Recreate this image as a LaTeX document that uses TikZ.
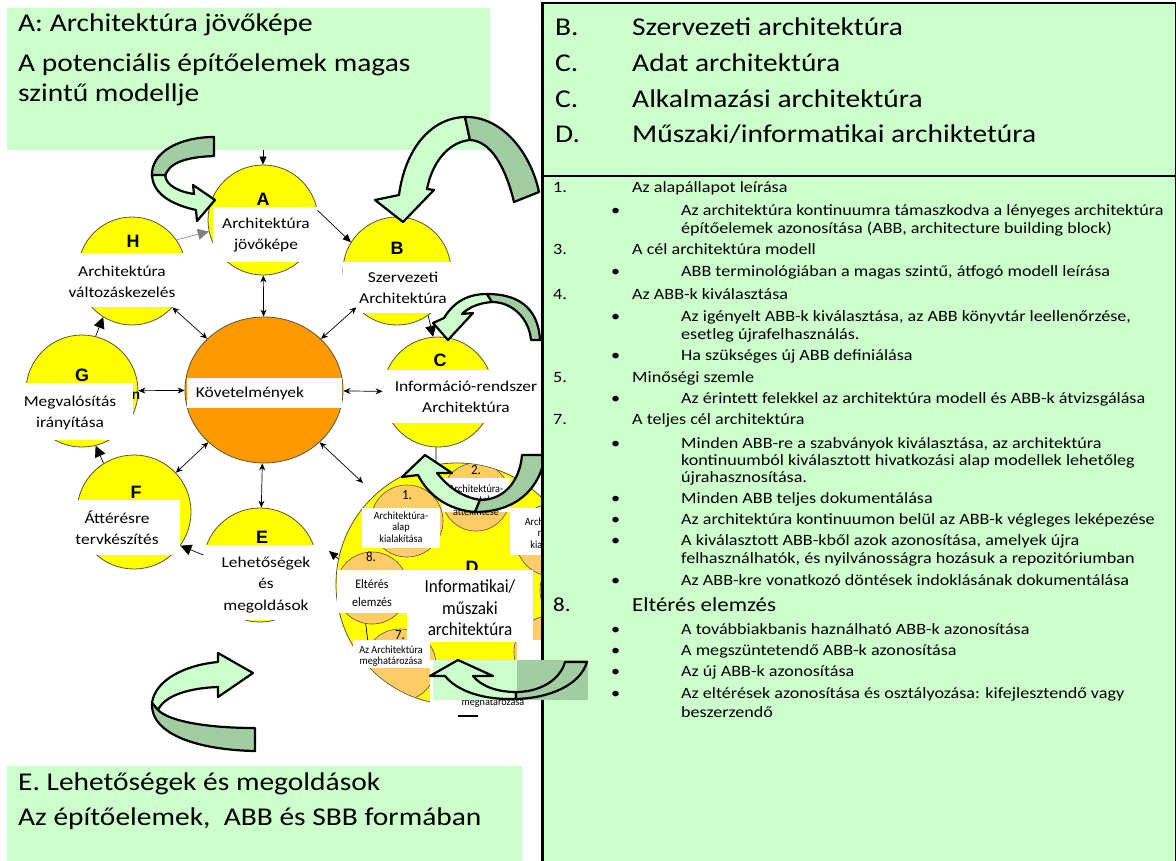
\documentclass[tikz,border=0pt]{standalone}
\usepackage{fontspec}
\setmainfont{Carlito}[FakeStretch=1.15]
\newfontfamily\insetfont{Carlito}[FakeStretch=0.93]
\newfontfamily\letterfont{Liberation Sans}
\usetikzlibrary{shapes.geometric,arrows.meta}
\definecolor{lgreen}{HTML}{CCFFCC}
\definecolor{dgreen}{HTML}{A2CDA2}
\definecolor{cyellow}{HTML}{FFFF00}
\definecolor{corange}{HTML}{FF9900}
\definecolor{lorange}{HTML}{FFCC66}
\definecolor{rimc}{HTML}{55553A}
\newcommand{\fsz}[2]{\fontsize{#1}{#2}\selectfont}
% one line of text, placed by its baseline
\newcommand{\bline}[5]{\node[anchor=base west,inner sep=0pt,#1] (#2) at (#3,#4) {#5};}
\begin{document}
\begin{tikzpicture}[x=1bp,y=-1bp,
  phase/.style={circle,draw=rimc,line width=0.8bp,fill=cyellow,minimum size=#1,inner sep=0pt},
  sub/.style={circle,draw=rimc,line width=0.6bp,fill=lorange,minimum size=#1,inner sep=0pt},
  wbox/.style={fill=white,inner sep=0pt,anchor=north west},
  lbl/.style={inner sep=0pt,align=center,font=\fsz{15.2}{21.5}},
  tiny/.style={inner sep=0pt,align=center,font=\insetfont\fsz{11}{11.5}},
  letter/.style={inner sep=0pt,font=\letterfont\bfseries\fsz{18}{18}},
  big/.style={font=\fsz{25.7}{30}},
  mid/.style={font=\fsz{20}{24}},
  small/.style={font=\fsz{15.8}{18}},
  conn/.style={line width=0.7bp,{Stealth[length=7bp,width=6bp]}-{Stealth[length=7bp,width=6bp]}},
  cyc/.style={line width=0.7bp,-{Triangle[length=11bp,width=11bp]}},
  cycs/.style={line width=0.7bp,-{Triangle[length=8bp,width=7bp]}},
  band/.style={draw=black,line width=2.2bp,line join=round},
]
\useasboundingbox (0,0) rectangle (1176,861);
\fill[white] (0,0) rectangle (1176,861);

% green caption boxes on the left
\node[fill=lgreen,inner sep=0pt,anchor=north west,minimum width=483bp,minimum height=142bp] (TL) at (7,8) {};
\bline{big}{tl1}{18}{31}{A: Architektúra jövőképe}
\bline{big}{tl2}{18}{71}{A potenciális építőelemek magas}
\bline{big}{tl3}{18}{101}{szintű modellje}
\node[fill=lgreen,inner sep=0pt,anchor=north west,minimum width=515bp,minimum height=96bp] (BL) at (7,766) {};
\bline{big}{bl1}{18}{790}{E. Lehetőségek és megoldások}
\bline{big}{bl2}{18}{825}{Az építőelemek,\ \ ABB és SBB formában}

% phase circles
\node[phase=110bp] (A) at (263,220) {};
\node[phase=108bp] (H) at (132,271) {};
\node[phase=112bp] (G) at (82,391) {};
\node[ellipse,draw=rimc,line width=0.8bp,fill=corange,minimum width=158bp,minimum height=146bp,inner sep=0pt] (K) at (264,390) {};
\node[phase=108bp] (B) at (397,271) {};
\node[phase=110bp] (C) at (438,392) {};
\node[phase=114bp] (F) at (134,512) {};
\node[phase=114bp] (E) at (260,565) {};
\node[phase=242bp] (D) at (457,584) {};

% steps inside D
\begin{scope}
  \clip (457,584) circle (120.5bp);
  \node[sub=72bp] (s1) at (407,521) {};
  \node[sub=68bp] (s2) at (476,497) {};
  \node[sub=72bp] (s3) at (552,540) {};
  \node[sub=72bp] (s4) at (576,590) {};
  \node[sub=72bp] (s5) at (550,652) {};
  \node[sub=72bp] (s6) at (478,697) {};
  \node[sub=72bp] (s7) at (400,665) {};
  \node[sub=72bp] (s8) at (372,588) {};
\end{scope}
\draw[line width=0.7bp] (s8.-100) -- (s7.150);
\node[font=\insetfont\fsz{14}{14},inner sep=0pt] (n1) at (407,495) {1.};
\node[font=\insetfont\fsz{14}{14},inner sep=0pt] (n2) at (476,470) {2.};
\node[font=\insetfont\fsz{14}{14},inner sep=0pt] (n8) at (371,557) {8.};
\node[font=\insetfont\fsz{14}{14},inner sep=0pt] (n7) at (400,635) {7.};

% phase letters
\node[letter] (lA) at (263,199) {A};
\node[letter] (lH) at (133,241) {H};
\node[letter] (lG) at (82,375) {G};
\node[letter] (lB) at (397,248) {B};
\node[letter] (lC) at (440,360) {C};
\node[letter] (lF) at (136,492) {F};
\node[letter] (lE) at (262,537) {E};
\node[letter] (lD) at (472,567) {D};
\node[inner sep=0pt,font=\letterfont\bfseries\fsz{14}{14}] (gn) at (136,396) {n};

% white label boxes
\node[wbox,minimum width=107bp,minimum height=55bp] (Abox) at (213,207) {};
\node[wbox,minimum width=125bp,minimum height=54bp] (Hbox) at (62,253) {};
\node[wbox,minimum width=118bp,minimum height=57bp] (Gbox) at (15,383) {};
\node[wbox,minimum width=155bp,minimum height=30bp] (Kbox) at (187,378) {};
\node[wbox,minimum width=112bp,minimum height=51bp] (Bbox) at (343,262) {};
\node[wbox,minimum width=160bp,minimum height=53bp] (Cbox) at (382,370) {};
\node[wbox,minimum width=105bp,minimum height=55bp] (Fbox) at (75,500) {};
\node[wbox,minimum width=128bp,minimum height=75bp] (Ebox) at (202,545) {};
\node[wbox,minimum width=78bp,minimum height=40bp] (b1) at (362,508) {};
\node[wbox,minimum width=68bp,minimum height=34bp] (b2) at (442,478) {};
\node[wbox,minimum width=80bp,minimum height=47bp] (b3) at (510,508) {};
\node[wbox,minimum width=70bp,minimum height=43bp] (b8) at (337,570) {};
\node[wbox,minimum width=126bp,minimum height=72bp] (bD) at (407,570) {};
\node[wbox,minimum width=77bp,minimum height=28bp] (b7) at (353,640) {};
\node[wbox,minimum width=70bp,minimum height=26bp] (b5) at (517,640) {};
\node[wbox,minimum width=111bp,minimum height=56bp] (b6) at (430,660) {};
\coordinate (u1) at (458,716);
\coordinate (u2) at (478,716);
\draw[line width=1.2bp] (u1) -- (u2);

% label texts
\node[lbl] (At) at (266,235) {Architektúra\\jövőképe};
\node[lbl] (Ht) at (122,282) {Architektúra\\változáskezelés};
\node[lbl] (Gt) at (70,413) {Megvalósítás\\irányítása};
\node[lbl] (Kt) at (250,393) {Követelmények};
\node[lbl] (Bt) at (403,288) {Szervezeti\\Architektúra};
\node[lbl] (Ct) at (466,397) {Információ-rendszer\\Architektúra};
\node[lbl] (Ft) at (117,528) {Áttérésre\\tervkészítés};
\node[lbl] (Et) at (266,585) {Lehetőségek\\és\\megoldások};
\node[tiny] (t1) at (401,527) {Architektúra-\\alap\\kialakítása};
\node[tiny] (t2) at (476,500) {Architektúra-\\nézetek\\áttekintése};
\node[tiny] (t3) at (552,533) {Architektúra-\\modell\\kialakítása};
\node[inner sep=0pt,align=center,font=\insetfont\fsz{13}{18}] (t8) at (372,593) {Eltérés\\elemzés};
\node[inner sep=0pt,align=center,font=\insetfont\fsz{18.5}{21.5}] (tD) at (470,608) {Informatikai/\\műszaki\\architektúra};
\node[tiny] (t7) at (391,656) {Az Architektúra\\meghatározása};
\node[tiny] (t5) at (562,657) {Szervezeti\\célok};
\node[tiny] (t6) at (493,697) {Kritériumok\\meghatározása};

% connectors between phases
\draw[cycs] (A |- TL.south) -- (A.north);
\draw[conn] (A) -- (K);
\draw[conn] (H) -- (K);
\draw[conn] (G) -- (K);
\draw[conn] (F) -- (K);
\draw[conn] (K) -- (E);
\draw[conn] (B) -- (K);
\draw[conn] (K) -- (C);
\coordinate (kd) at (363,483);
\draw[conn] (K) -- (kd);
\draw[line width=0.6bp,draw=gray,-{Triangle[length=11bp,width=11bp]}] (H.35) -- (A.192);
\draw[cyc] (G.76) -- (H.-122);
\draw[cyc] (F.122) -- (G.-76);
\draw[cyc] (E.170) -- (Fbox.east |- F.-36);
\draw[cycs] (A.10) -- (B.148);
\draw[cyc] (B.-55) -- (C.95);
\draw[line width=0.7bp] (C.-92) -- (D.100);
\coordinate (dE) at (329,551);
\draw[line width=0.7bp,-{Triangle[length=9bp,width=8bp]}] (D.168) -- (dE);

% curled block arrows
\filldraw[band,fill=dgreen] (214,137) -- (214,156) .. controls (188,157) and (168,162) .. (165,177) -- (152,177) .. controls (150,152) and (180,137) .. (214,137) -- cycle;
\filldraw[band,fill=lgreen] (152,175) .. controls (153,197) and (178,206) .. (196,210) -- (197,221) -- (215,200) -- (193,185) -- (194,194) .. controls (180,192) and (166,186) .. (165,175) -- cycle;

\filldraw[band,fill=lgreen] (375,200) -- (399,195) .. controls (405,150) and (430,118) .. (465,117) -- (470,140) .. controls (448,142) and (432,163) .. (427,189) -- (434,190) -- (403,222) -- cycle;
\filldraw[band,fill=dgreen] (465,117) .. controls (500,116) and (530,150) .. (539,192) -- (514,202) .. controls (505,165) and (490,141) .. (470,140) -- cycle;

\filldraw[band,fill=lgreen] (433,323) -- (444,318) .. controls (455,300) and (470,294) .. (487,294) -- (492,302) .. controls (478,303) and (468,308) .. (462,314) -- (473,313) -- (448,340) -- cycle;
\filldraw[band,fill=dgreen] (487,294) .. controls (515,294) and (538,305) .. (540,340) -- (531,340) .. controls (529,318) and (512,302) .. (492,302) -- cycle;

\filldraw[band,fill=lgreen] (402,477) -- (418,475) .. controls (428,495) and (448,510) .. (475,512) -- (480,500) .. controls (462,497) and (448,487) .. (437,473) -- (452,473) -- (425,455) -- cycle;
\filldraw[band,fill=dgreen] (475,512) .. controls (515,512) and (540,490) .. (545,455) -- (522,455) .. controls (520,480) and (505,500) .. (480,500) -- cycle;

\filldraw[band,fill=lgreen] (218,653) -- (218,662) .. controls (185,665) and (155,680) .. (152,703) -- (158,710) .. controls (165,695) and (190,688) .. (218,687) -- (218,697) -- (253,673) -- cycle;
\filldraw[band,fill=dgreen] (152,703) .. controls (150,735) and (200,750) .. (255,751) -- (255,728) .. controls (210,728) and (170,722) .. (158,710) -- cycle;

% right-hand panel
\node[draw,line width=1.8bp,fill=lgreen,inner sep=0pt,anchor=north west,minimum width=633bp,minimum height=173bp] (RT) at (542,2) {};
\node[draw,line width=1.8bp,fill=lgreen,inner sep=0pt,anchor=north west,minimum width=633bp,minimum height=690bp] (RB) at (542,175) {};
\draw[line width=3bp] (RT.north west) -- (RB.south west);
\bline{big}{rb}{555}{35}{B.}
\bline{big}{rbt}{632}{35}{Szervezeti architektúra}
\bline{big}{rc1}{555}{71}{C.}
\bline{big}{rc1t}{632}{71}{Adat architektúra}
\bline{big}{rc2}{555}{107}{C.}
\bline{big}{rc2t}{632}{107}{Alkalmazási architektúra}
\bline{big}{rd}{555}{142}{D.}
\bline{big}{rdt}{632}{142}{Műszaki/informatikai archiktetúra}

\bline{small}{m1}{553}{192}{1.}
\bline{small}{h1}{632}{192}{Az alapállapot leírása}
\bline{small}{p1}{611}{215}{•}
\bline{small}{q1a}{681}{215}{Az architektúra kontinuumra támaszkodva a lényeges architektúra}
\bline{small}{q1b}{681}{233}{építőelemek azonosítása (ABB, architecture building block)}
\bline{small}{m3}{553}{254}{3.}
\bline{small}{h3}{632}{254}{A cél architektúra modell}
\bline{small}{p3}{611}{276}{•}
\bline{small}{q3a}{681}{276}{ABB terminológiában a magas szintű, átfogó modell leírása}
\bline{small}{m4}{553}{299}{4.}
\bline{small}{h4}{632}{299}{Az ABB-k kiválasztása}
\bline{small}{p4a}{611}{321}{•}
\bline{small}{q4a}{681}{321}{Az igényelt ABB-k kiválasztása, az ABB könyvtár leellenőrzése,}
\bline{small}{q4b}{681}{339}{esetleg újrafelhasználás.}
\bline{small}{p4b}{611}{360}{•}
\bline{small}{q4c}{681}{360}{Ha szükséges új ABB definiálása}
\bline{small}{m5}{553}{382}{5.}
\bline{small}{h5}{632}{382}{Minőségi szemle}
\bline{small}{p5}{611}{403}{•}
\bline{small}{q5a}{681}{403}{Az érintett felekkel az architektúra modell és ABB-k átvizsgálása}
\bline{small}{m7}{553}{424}{7.}
\bline{small}{h7}{632}{424}{A teljes cél architektúra}
\bline{small}{p7a}{611}{448}{•}
\bline{small}{q7a}{681}{448}{Minden ABB-re a szabványok kiválasztása, az architektúra}
\bline{small}{q7b}{681}{465}{kontinuumból kiválasztott hivatkozási alap modellek lehetőleg}
\bline{small}{q7c}{681}{482}{újrahasznosítása.}
\bline{small}{p7b}{611}{503}{•}
\bline{small}{q7d}{681}{503}{Minden ABB teljes dokumentálása}
\bline{small}{p7c}{611}{524}{•}
\bline{small}{q7e}{681}{524}{Az architektúra kontinuumon belül az ABB-k végleges leképezése}
\bline{small}{p7d}{611}{545}{•}
\bline{small}{q7f}{681}{545}{A kiválasztott ABB-kből azok azonosítása, amelyek újra}
\bline{small}{q7g}{681}{563}{felhasználhatók, és nyilvánosságra hozásuk a repozitóriumban}
\bline{small}{p7e}{611}{585}{•}
\bline{small}{q7h}{681}{585}{Az ABB-kre vonatkozó döntések indoklásának dokumentálása}
\bline{mid}{m8}{553}{611}{8.}
\bline{mid}{h8}{632}{611}{Eltérés elemzés}
\bline{small}{p8a}{611}{634}{•}
\bline{small}{q8a}{681}{634}{A továbbiakbanis haználható ABB-k azonosítása}
\bline{small}{p8b}{611}{655}{•}
\bline{small}{q8b}{681}{655}{A megszüntetendő ABB-k azonosítása}
\bline{small}{p8c}{611}{676}{•}
\bline{small}{q8c}{681}{676}{Az új ABB-k azonosítása}
\bline{small}{p8d}{611}{698}{•}
\bline{small}{q8d}{681}{698}{Az eltérések azonosítása és osztályozása: kifejlesztendő vagy}
\bline{small}{q8e}{681}{717}{beszerzendő}

% curled arrow on its own tinted backdrop, over the panel edge
\fill[lgreen] (433,660) rectangle (517,700);
\fill[dgreen] (517,660) rectangle (588,700);
\filldraw[band,fill=lgreen] (430,676) -- (445,676) .. controls (458,692) and (485,700) .. (516,699) -- (516,692) .. controls (495,692) and (480,685) .. (473,676) -- (493,676) -- (458,660) -- cycle;
\filldraw[band,fill=dgreen] (516,699) .. controls (550,698) and (580,685) .. (587,662) -- (565,662) .. controls (560,680) and (540,692) .. (516,692) -- cycle;
\end{tikzpicture}
\end{document}
